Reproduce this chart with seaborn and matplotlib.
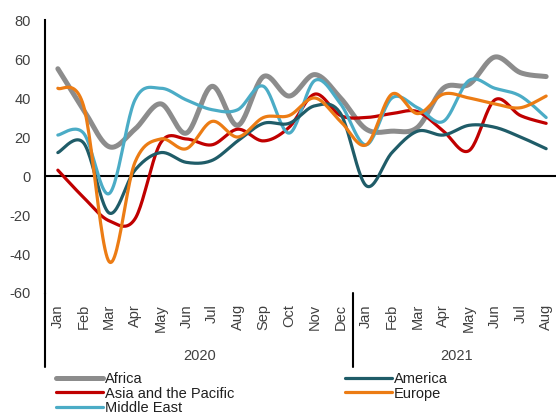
import numpy as np
import pandas as pd
import seaborn as sns
import matplotlib.pyplot as plt

# data
months = ["Jan", "Feb", "Mar", "Apr", "May", "Jun", "Jul", "Aug", "Sep", "Oct", "Nov", "Dec",
          "Jan", "Feb", "Mar", "Apr", "May", "Jun", "Jul", "Aug"]
years = ["2020", "2021"]
africa = [55, 34, 15, 24, 37, 22, 46, 26, 51, 41, 52, 40, 24, 23, 25, 45, 47, 61, 53, 51]
america = [12, 17, -19, 3, 12, 7, 8, 18, 27, 27, 36, 32, -5, 12, 23, 21, 26, 25, 20, 14]
asia = [3, -11, -23, -22, 17, 19, 16, 24, 18, 25, 42, 31, 30, 32, 33, 23, 13, 39, 31, 27]
europe = [45, 36, -44, 7, 19, 14, 28, 20, 30, 31, 40, 28, 16, 42, 32, 42, 40, 37, 35, 41]
middle_east = [21, 22, -9, 39, 45, 39, 34, 34, 46, 22, 49, 37, 16, 40, 35, 28, 49, 45, 41, 30]

series = {
    "Africa": africa,
    "Asia and the Pacific": asia,
    "Middle East": middle_east,
    "America": america,
    "Europe": europe,
}
colors = {
    "Africa": "#8c8c8c",
    "America": "#1f5c68",
    "Asia and the Pacific": "#c00000",
    "Europe": "#ec7c14",
    "Middle East": "#4bacc6",
}
widths = {"Africa": 3.6, "America": 2.3, "Asia and the Pacific": 2.3,
          "Europe": 2.3, "Middle East": 2.3}


def smooth(y, n=24):
    # catmull-rom curve through the points (like excel "smoothed line")
    y = np.asarray(y, dtype=float)
    x = np.arange(len(y), dtype=float)
    p = np.column_stack([x, y])
    p = np.vstack([p[0], p, p[-1]])
    out = []
    for i in range(1, len(p) - 2):
        p0, p1, p2, p3 = p[i - 1], p[i], p[i + 1], p[i + 2]
        t = np.linspace(0, 1, n, endpoint=False)[:, None]
        c = 0.5 * ((2 * p1) + (-p0 + p2) * t + (2 * p0 - 5 * p1 + 4 * p2 - p3) * t ** 2
                   + (-p0 + 3 * p1 - 3 * p2 + p3) * t ** 3)
        out.append(c)
    out.append(p[-2][None, :])
    return np.vstack(out)


rows = []
for name, vals in series.items():
    pts = smooth(vals)
    rows.append(pd.DataFrame({"x": pts[:, 0], "y": pts[:, 1], "region": name}))
df = pd.concat(rows, ignore_index=True)

sns.set_style("white")
plt.rcParams["font.family"] = ["Liberation Sans", "DejaVu Sans"]
plt.rcParams["axes.unicode_minus"] = False

fig = plt.figure(figsize=(5.56, 4.19), dpi=100)
ax = fig.add_axes([45 / 556, 1 - 293 / 419, 514 / 556, 273 / 419])

for name in series:
    sub = df[df["region"] == name]
    sns.lineplot(data=sub, x="x", y="y", sort=False, color=colors[name],
                 linewidth=widths[name], ax=ax, label=name, legend=False)

ax.axhline(0, color="black", linewidth=1.5, zorder=1)
ax.set_xlim(-0.5, len(months) - 0.5)
ax.set_ylim(-60, 80)
ax.set_yticks(range(-60, 81, 20))
ax.set_xticks(range(len(months)))
ax.set_xticklabels(months, rotation=90, va="top", ha="center")
ax.tick_params(axis="x", length=0, pad=8, labelsize=10.5, colors="#404040")
ax.tick_params(axis="y", length=0, pad=10, labelsize=10.5, colors="#404040")
ax.set_xlabel("")
ax.set_ylabel("")
for s in ["top", "right", "bottom"]:
    ax.spines[s].set_visible(False)
ax.spines["left"].set_color("black")
ax.spines["left"].set_linewidth(1.5)

# category group lines and year labels
ax.plot([-0.5, -0.5], [0, -0.27], transform=ax.get_xaxis_transform(),
        color="black", linewidth=1.5, clip_on=False)
ax.plot([11.5, 11.5], [0, -0.27], transform=ax.get_xaxis_transform(),
        color="black", linewidth=1.5, clip_on=False)
ax.text(5.5, -0.23, years[0], transform=ax.get_xaxis_transform(),
        ha="center", va="center", fontsize=10.5, color="#404040")
ax.text(15.5, -0.23, years[1], transform=ax.get_xaxis_transform(),
        ha="center", va="center", fontsize=10.5, color="#404040")

handles, labels = ax.get_legend_handles_labels()
fig.legend(handles, labels, ncol=2, loc="upper left",
           bbox_to_anchor=(50 / 556, 1 - 366 / 419), frameon=False,
           fontsize=10.5, handlelength=3.2, handletextpad=0.15,
           labelspacing=0.05, columnspacing=7.6, borderaxespad=0,
           labelcolor="#202020")

fig.savefig("out.png", dpi=100)
